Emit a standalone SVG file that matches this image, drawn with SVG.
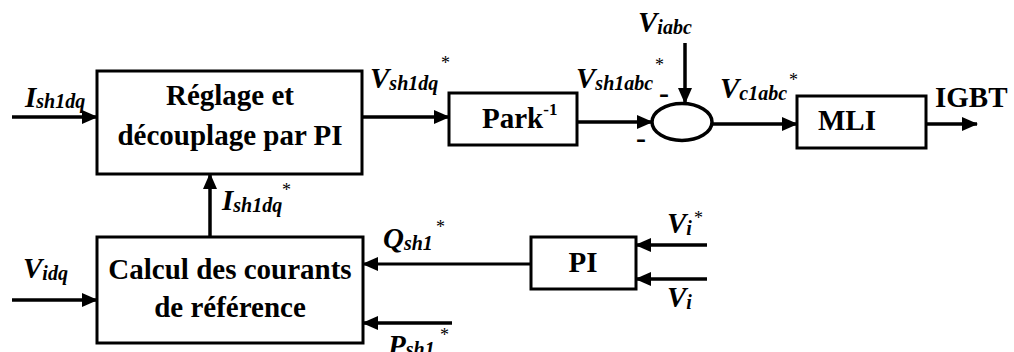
<svg xmlns="http://www.w3.org/2000/svg" width="1014" height="352" viewBox="0 0 1014 352">
<style>
.box{fill:#fff;stroke:#000;stroke-width:3}
.ln{fill:none;stroke:#000;stroke-width:3.5}
.t{font-family:"Liberation Serif","Times New Roman",serif;font-weight:bold;font-size:29px;fill:#000}
.c{text-anchor:middle}
.l{font-family:"Liberation Serif","Times New Roman",serif;font-weight:bold;font-style:italic;font-size:29px;fill:#000}
.s{font-size:20px}
.a{font-family:"Liberation Serif","Times New Roman",serif;font-size:18px;fill:#000}
.m{font-family:"Liberation Serif","Times New Roman",serif;font-weight:bold;font-size:30px;fill:#000}
</style>
<defs>
<marker id="ar" markerUnits="userSpaceOnUse" markerWidth="16" markerHeight="14" refX="15" refY="7" orient="auto">
<path d="M0,0 L16,7 L0,14 z" fill="#000"/>
</marker>
</defs>
<g id="connectors">
<line class="ln" x1="12" y1="117" x2="97" y2="117" marker-end="url(#ar)"/>
<line class="ln" x1="362" y1="117" x2="449" y2="117" marker-end="url(#ar)"/>
<line class="ln" x1="577" y1="122" x2="652" y2="122" marker-end="url(#ar)"/>
<line class="ln" x1="685" y1="43" x2="685" y2="103" marker-end="url(#ar)"/>
<line class="ln" x1="712" y1="124" x2="797" y2="124" marker-end="url(#ar)"/>
<line class="ln" x1="926" y1="124" x2="977" y2="124" marker-end="url(#ar)"/>
<line class="ln" x1="210" y1="237" x2="210" y2="174" marker-end="url(#ar)"/>
<line class="ln" x1="12" y1="300" x2="97" y2="300" marker-end="url(#ar)"/>
<line class="ln" x1="531" y1="264" x2="363" y2="264" marker-end="url(#ar)" style="stroke-width:3"/>
<line class="ln" x1="452" y1="323" x2="363" y2="323" marker-end="url(#ar)"/>
<line class="ln" x1="707" y1="245" x2="636" y2="245" marker-end="url(#ar)"/>
<line class="ln" x1="707" y1="279" x2="636" y2="279" marker-end="url(#ar)"/>
</g>
<g id="reglage">
<rect class="box" x="97" y="71" width="265" height="103"/>
<text class="t c" x="230" y="105">Réglage et</text>
<text class="t c" x="230" y="145">découplage par PI</text>
</g>
<g id="calcul">
<rect class="box" x="97" y="237" width="266" height="106"/>
<text class="t c" x="230" y="279">Calcul des courants</text>
<text class="t c" x="230" y="317">de référence</text>
</g>
<g id="park">
<rect class="box" x="449" y="93" width="128" height="52"/>
<text class="t" x="482" y="128">Park<tspan font-size="17" dy="-13">-1</tspan></text>
</g>
<g id="sum">
<ellipse cx="682" cy="122" rx="30" ry="18.5" fill="#fff" stroke="#000" stroke-width="3.5"/>
<text class="m" x="659" y="103">-</text>
<text class="m" x="636" y="148">-</text>
</g>
<g id="mli">
<rect class="box" x="797" y="96" width="129" height="52"/>
<text class="t c" x="847" y="130">MLI</text>
</g>
<g id="pi">
<rect class="box" x="531" y="237" width="105" height="52"/>
<text class="t c" x="583" y="272">PI</text>
</g>
<g id="labels">
<text class="l" x="25" y="107">I<tspan class="s" dy="1">sh1dq</tspan></text>
<text class="l" x="370" y="88">V<tspan class="s" dy="2">sh1dq</tspan></text>
<text class="a" x="441" y="69">*</text>
<text class="l" x="576" y="88">V<tspan class="s" dy="2">sh1abc</tspan></text>
<text class="a" x="655" y="71">*</text>
<text class="l" x="638" y="32">V<tspan class="s" dy="2">iabc</tspan></text>
<text class="l" x="720" y="98">V<tspan class="s" dy="2">c1abc</tspan></text>
<text class="a" x="789" y="86">*</text>
<text class="t" x="935" y="107">IGBT</text>
<text class="l" x="222" y="210">I<tspan class="s" dy="2">sh1dq</tspan></text>
<text class="a" x="282" y="196">*</text>
<text class="l" x="23" y="278">V<tspan class="s" dy="2">idq</tspan></text>
<text class="l" x="383" y="248">Q<tspan class="s" dy="2">sh1</tspan></text>
<text class="a" x="436" y="233">*</text>
<text class="l" x="388" y="355">P<tspan class="s" dy="1">sh1</tspan></text>
<text class="a" x="440" y="341">*</text>
<text class="l" x="667" y="233">V<tspan class="s" dy="2">i</tspan></text>
<text class="a" x="694" y="224">*</text>
<text class="l" x="667" y="307">V<tspan class="s" dy="2">i</tspan></text>
</g>
</svg>
